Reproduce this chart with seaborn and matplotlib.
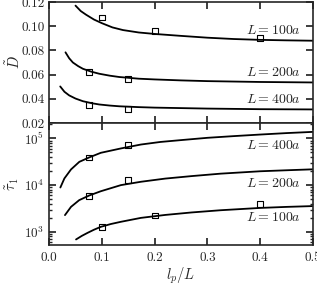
import matplotlib
matplotlib.use("Agg")
import matplotlib.pyplot as plt
import matplotlib.ticker as mticker
import numpy as np
import seaborn as sns

# --- data ------------------------------------------------------------------
labels = ["$L = 100a$", "$L = 200a$", "$L = 400a$"]

# diffusion coefficient D~ (top panel), curves
d_x_100 = [0.050, 0.060, 0.070, 0.085, 0.100, 0.120, 0.140, 0.170, 0.200, 0.250, 0.300, 0.350, 0.400, 0.450, 0.500]
d_y_100 = [0.117, 0.1125, 0.1095, 0.1055, 0.1025, 0.0990, 0.0968, 0.0948, 0.0936, 0.0920, 0.0905, 0.0894, 0.0887, 0.0883, 0.0880]
d_x_200 = [0.031, 0.038, 0.045, 0.055, 0.064, 0.080, 0.095, 0.115, 0.133, 0.170, 0.200, 0.250, 0.300, 0.400, 0.500]
d_y_200 = [0.0784, 0.0735, 0.0700, 0.0670, 0.0648, 0.0624, 0.0607, 0.0591, 0.0580, 0.0566, 0.0560, 0.0552, 0.0546, 0.0539, 0.0535]
d_x_400 = [0.021, 0.029, 0.038, 0.050, 0.064, 0.080, 0.095, 0.115, 0.133, 0.170, 0.200, 0.300, 0.400, 0.500]
d_y_400 = [0.0502, 0.0458, 0.0428, 0.0402, 0.0380, 0.0364, 0.0353, 0.0344, 0.0338, 0.0331, 0.0327, 0.0319, 0.0314, 0.0312]

# D~ simulation points
ds_x_100 = [0.1, 0.2, 0.4]
ds_y_100 = [0.1072, 0.0963, 0.0900]
ds_x_200 = [0.075, 0.15]
ds_y_200 = [0.0620, 0.0565]
ds_x_400 = [0.075, 0.15]
ds_y_400 = [0.0345, 0.0312]

# relaxation time tau~_1 (bottom panel), curves
t_x_100 = [0.051, 0.062, 0.073, 0.085, 0.098, 0.117, 0.136, 0.174, 0.220, 0.270, 0.325, 0.400, 0.450, 0.500]
t_y_100 = [687, 820, 953, 1110, 1280, 1470, 1640, 1990, 2300, 2600, 2900, 3250, 3420, 3560]
t_x_200 = [0.030, 0.0415, 0.057, 0.076, 0.098, 0.136, 0.174, 0.220, 0.270, 0.325, 0.400, 0.450, 0.500]
t_y_200 = [2280, 3430, 4770, 6000, 7400, 10000, 11800, 13800, 15600, 17600, 19800, 20800, 21800]
t_x_400 = [0.0213, 0.0289, 0.0415, 0.0572, 0.076, 0.098, 0.136, 0.174, 0.211, 0.250, 0.300, 0.350, 0.400, 0.450, 0.500]
t_y_400 = [8900, 13900, 21700, 31500, 39200, 49200, 61000, 74000, 84000, 92000, 103000, 112000, 121000, 130000, 138000]

# tau~_1 simulation points
ts_x_100 = [0.1, 0.2, 0.4]
ts_y_100 = [1280, 2240, 3900]
ts_x_200 = [0.075, 0.15]
ts_y_200 = [5800, 12800]
ts_x_400 = [0.075, 0.15]
ts_y_400 = [39000, 72000]

sns.set_theme(style="ticks")
plt.rcParams.update({
    "font.family": ["cmr10", "DejaVu Serif"],
    "mathtext.fontset": "cm",
    "axes.formatter.use_mathtext": True,
    "font.size": 9.5,
    "xtick.labelsize": 9.5,
    "ytick.labelsize": 9.5,
    "axes.linewidth": 1.2,
    "xtick.direction": "in",
    "ytick.direction": "in",
    "xtick.major.size": 5,
    "ytick.major.size": 5,
    "xtick.minor.size": 2.5,
    "ytick.minor.size": 2.5,
    "xtick.top": True,
    "ytick.right": True,
})

fig = plt.figure(figsize=(3.17, 2.86), dpi=100)
ax_d = fig.add_axes([0.155, 0.570, 0.832, 0.423])
ax_t = fig.add_axes([0.155, 0.143, 0.832, 0.427], sharex=ax_d)

sq = dict(marker="s", s=18, facecolor="none", edgecolor="black", linewidth=0.8)

# top panel: D~
for xs, ys in [(d_x_100, d_y_100), (d_x_200, d_y_200), (d_x_400, d_y_400)]:
    sns.lineplot(x=xs, y=ys, ax=ax_d, color="black", linewidth=1.3, sort=False)
for xs, ys in [(ds_x_100, ds_y_100), (ds_x_200, ds_y_200), (ds_x_400, ds_y_400)]:
    sns.scatterplot(x=xs, y=ys, ax=ax_d, **sq)

ax_d.set_ylim(0.02, 0.12)
ax_d.set_yticks(np.arange(0.02, 0.121, 0.02))
ax_d.yaxis.set_major_formatter(mticker.FormatStrFormatter("%.2f"))
ax_d.set_ylabel(r"$\tilde{D}$", fontsize=10.5)
ax_d.yaxis.set_label_coords(-0.1, 0.5)
ax_d.tick_params(labelbottom=False)
for txt, yv in zip(labels, [0.0963, 0.0617, 0.0395]):
    ax_d.text(0.477, yv, txt, ha="right", va="center", fontsize=10)

# bottom panel: tau~_1
for xs, ys in [(t_x_100, t_y_100), (t_x_200, t_y_200), (t_x_400, t_y_400)]:
    sns.lineplot(x=xs, y=ys, ax=ax_t, color="black", linewidth=1.3, sort=False)
for xs, ys in [(ts_x_100, ts_y_100), (ts_x_200, ts_y_200), (ts_x_400, ts_y_400)]:
    sns.scatterplot(x=xs, y=ys, ax=ax_t, **sq)

ax_t.set_yscale("log")
ax_t.set_ylim(520, 2.14e5)
ax_t.set_ylabel(r"$\tilde{\tau}_1$", fontsize=10.5)
ax_t.yaxis.set_label_coords(-0.105, 0.5)
ax_t.set_xlim(0.0, 0.5)
ax_t.set_xticks(np.arange(0.0, 0.51, 0.1))
ax_t.xaxis.set_major_formatter(mticker.FormatStrFormatter("%.1f"))
ax_t.set_xlabel(r"$l_p/L$", fontsize=10.5, labelpad=1)
ax_t.tick_params(axis="x", pad=5)
for txt, yv in zip(labels, [2000, 11000, 70000]):
    ax_t.text(0.477, yv, txt, ha="right", va="center", fontsize=10)

for ax in (ax_d, ax_t):
    ax.tick_params(which="both", top=True, right=True, direction="in")

fig.savefig("out.png", dpi=100)
